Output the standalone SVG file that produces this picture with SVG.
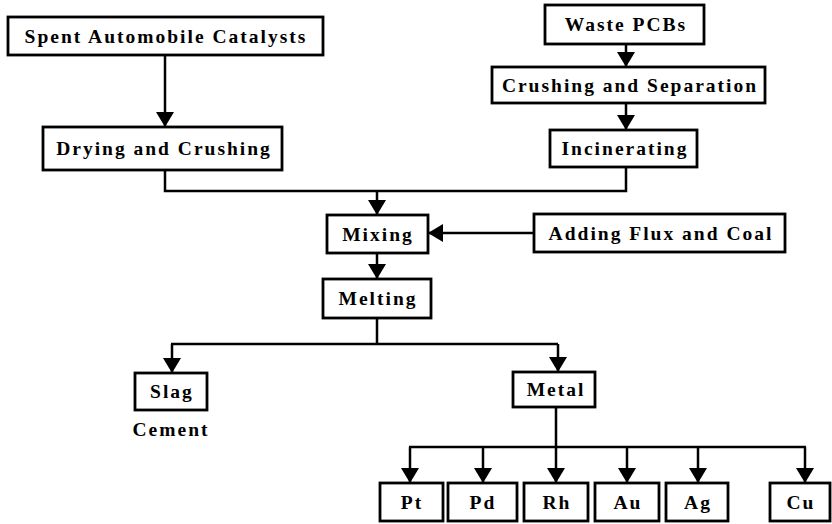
<svg xmlns="http://www.w3.org/2000/svg" width="832" height="524" viewBox="0 0 832 524">
  <style>
    .box { fill: #fff; stroke: #000; stroke-width: 2.8; }
    .lbl { font-weight: bold; font-size: 19.5px; letter-spacing: 2px; text-anchor: middle; fill: #000; }
    .con { fill: none; stroke: #000; stroke-width: 2.5; }
  </style>
  <defs>
    <marker id="arr" viewBox="0 0 10 10" preserveAspectRatio="none" markerUnits="userSpaceOnUse" markerWidth="15" markerHeight="18" refX="10" refY="5" orient="auto">
      <path d="M0,0 L10,5 L0,10 z" fill="#000"/>
    </marker>
  </defs>
  <rect width="832" height="524" fill="#fff"/>

  <g id="connectors">
    <path class="con" d="M165,55 V127" marker-end="url(#arr)"/>
    <path class="con" d="M626,44 V67" marker-end="url(#arr)"/>
    <path class="con" d="M626,103 V130" marker-end="url(#arr)"/>
    <path class="con" d="M165,170 V191 H626 V167"/>
    <path class="con" d="M377,191 V215" marker-end="url(#arr)"/>
    <path class="con" d="M534,233 H428" marker-end="url(#arr)"/>
    <path class="con" d="M377,253 V279" marker-end="url(#arr)"/>
    <path class="con" d="M377,318 V344 M171,344 H558"/>
    <path class="con" d="M172,344 V373" marker-end="url(#arr)"/>
    <path class="con" d="M558,344 V372" marker-end="url(#arr)"/>
    <path class="con" d="M556,407 V447 M409,447 H806"/>
    <path class="con" d="M410,447 V483" marker-end="url(#arr)"/>
    <path class="con" d="M483,447 V483" marker-end="url(#arr)"/>
    <path class="con" d="M556,447 V483" marker-end="url(#arr)"/>
    <path class="con" d="M627,447 V483" marker-end="url(#arr)"/>
    <path class="con" d="M698,447 V483" marker-end="url(#arr)"/>
    <path class="con" d="M805,447 V483" marker-end="url(#arr)"/>
  </g>

  <g font-family="'Liberation Serif', 'Times New Roman', 'DejaVu Serif', serif">
  <g id="spent">
    <rect class="box" x="8" y="17" width="315" height="38"/>
    <text class="lbl" x="166" y="43">Spent Automobile Catalysts</text>
  </g>
  <g id="drying">
    <rect class="box" x="43" y="127" width="239" height="43"/>
    <text class="lbl" x="164" y="155">Drying and Crushing</text>
  </g>
  <g id="waste">
    <rect class="box" x="545" y="5" width="159" height="39"/>
    <text class="lbl" x="626" y="31">Waste PCBs</text>
  </g>
  <g id="crushsep">
    <rect class="box" x="492" y="67" width="273" height="36"/>
    <text class="lbl" x="630" y="92">Crushing and Separation</text>
  </g>
  <g id="incin">
    <rect class="box" x="550" y="130" width="147" height="37"/>
    <text class="lbl" x="625" y="155">Incinerating</text>
  </g>
  <g id="mixing">
    <rect class="box" x="327" y="215" width="101" height="38"/>
    <text class="lbl" x="378" y="241">Mixing</text>
  </g>
  <g id="adding">
    <rect class="box" x="534" y="214" width="251" height="38"/>
    <text class="lbl" x="661" y="240">Adding Flux and Coal</text>
  </g>
  <g id="melting">
    <rect class="box" x="323" y="279" width="108" height="39"/>
    <text class="lbl" x="378" y="305">Melting</text>
  </g>
  <g id="slag">
    <rect class="box" x="135" y="373" width="72" height="37"/>
    <text class="lbl" x="172" y="398">Slag</text>
    <text class="lbl" x="171" y="436">Cement</text>
  </g>
  <g id="metal">
    <rect class="box" x="513" y="372" width="82" height="35"/>
    <text class="lbl" x="556" y="396">Metal</text>
  </g>
  <g id="pt">
    <rect class="box" x="380" y="483" width="63" height="38"/>
    <text class="lbl" x="412" y="509">Pt</text>
  </g>
  <g id="pd">
    <rect class="box" x="448" y="483" width="69" height="38"/>
    <text class="lbl" x="483" y="509">Pd</text>
  </g>
  <g id="rh">
    <rect class="box" x="524" y="483" width="64" height="38"/>
    <text class="lbl" x="557" y="509">Rh</text>
  </g>
  <g id="au">
    <rect class="box" x="595" y="483" width="64" height="38"/>
    <text class="lbl" x="628" y="509">Au</text>
  </g>
  <g id="ag">
    <rect class="box" x="666" y="483" width="62" height="38"/>
    <text class="lbl" x="698" y="509">Ag</text>
  </g>
  <g id="cu">
    <rect class="box" x="770" y="483" width="60" height="38"/>
    <text class="lbl" x="801" y="509">Cu</text>
  </g>
  </g>
</svg>
